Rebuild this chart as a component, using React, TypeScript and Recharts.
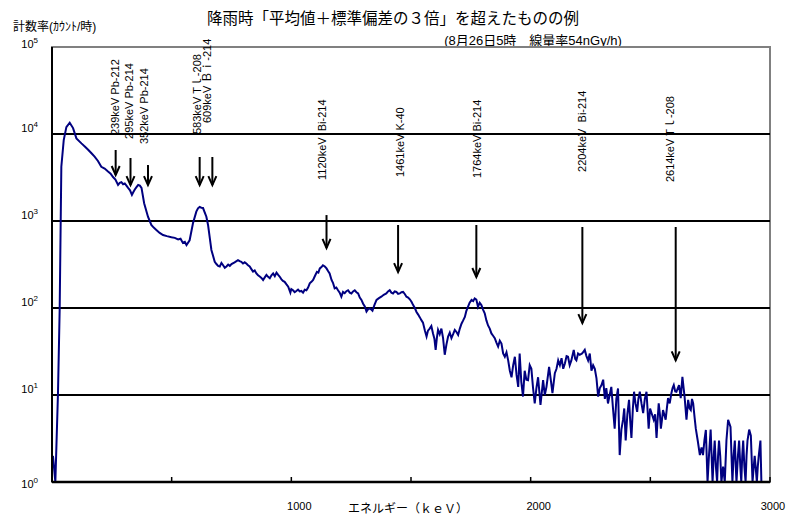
import React from "react";
import { LineChart, Line, XAxis, YAxis, ReferenceLine, ReferenceDot, ReferenceArea } from "recharts";

const energyKeV = [
  4, 14, 25, 32, 39, 49, 60, 74, 88, 102, 123, 137, 151, 165, 178, 192, 206, 220, 234, 245, 255, 265, 276, 283, 290, 297, 304, 311, 318, 326, 334, 340, 346, 353, 360, 367, 374, 385, 401, 415, 425, 436, 450, 464, 480, 499, 513, 527, 537, 547, 555, 562, 575, 589, 603, 610, 617, 624, 631, 645, 652, 666, 680, 687, 694, 701, 708, 715, 722, 729, 736, 743, 750, 763, 777, 784, 791, 798, 805, 812, 819, 826, 833, 840, 847, 854, 861, 868, 875, 882, 889, 896, 903, 910, 917, 924, 931, 938, 945, 951, 958, 965, 972, 979, 987, 996, 1000, 1007, 1014, 1021, 1028, 1035, 1042, 1049, 1056, 1063, 1070, 1077, 1084, 1091, 1099, 1107, 1113, 1119, 1126, 1132, 1140, 1147, 1154, 1160, 1168, 1174, 1181, 1188, 1195, 1202, 1209, 1216, 1223, 1230, 1237, 1244, 1251, 1258, 1265, 1272, 1279, 1286, 1293, 1300, 1307, 1314, 1321, 1328, 1334, 1339, 1347, 1356, 1366, 1376, 1386, 1397, 1404, 1411, 1418, 1425, 1432, 1439, 1446, 1453, 1460, 1467, 1474, 1481, 1488, 1495, 1502, 1509, 1516, 1523, 1530, 1537, 1544, 1550, 1558, 1565, 1571, 1578, 1585, 1592, 1598, 1603, 1608, 1613, 1620, 1627, 1634, 1641, 1648, 1655, 1662, 1669, 1676, 1683, 1690, 1697, 1704, 1711, 1718, 1725, 1731, 1738, 1745, 1753, 1760, 1766, 1773, 1780, 1787, 1794, 1801, 1808, 1815, 1822, 1829, 1836, 1843, 1850, 1857, 1864, 1871, 1878, 1885, 1892, 1899, 1906, 1913, 1920, 1927, 1934, 1941, 1948, 1954, 1961, 1968, 1975, 1982, 1989, 1996, 2003, 2010, 2017, 2024, 2031, 2041, 2052, 2059, 2066, 2077, 2084, 2091, 2101, 2108, 2115, 2122, 2129, 2136, 2143, 2150, 2156, 2163, 2170, 2180, 2186, 2191, 2198, 2205, 2215, 2226, 2233, 2240, 2247, 2254, 2261, 2268, 2275, 2282, 2289, 2296, 2303, 2310, 2316, 2323, 2330, 2337, 2344, 2351, 2358, 2365, 2372, 2379, 2386, 2391, 2397, 2404, 2411, 2416, 2421, 2427, 2432, 2438, 2445, 2450, 2456, 2463, 2470, 2477, 2484, 2493, 2499, 2505, 2514, 2520, 2526, 2530, 2535, 2540, 2544, 2548, 2553, 2558, 2564, 2569, 2574, 2581, 2588, 2593, 2598, 2604, 2609, 2615, 2620, 2627, 2634, 2643, 2651, 2658, 2664, 2669, 2674, 2679, 2685, 2690, 2698, 2707, 2714, 2720, 2726, 2732, 2739, 2745, 2752, 2760, 2765, 2769, 2774, 2779, 2783, 2787, 2792, 2797, 2804, 2811, 2818, 2825, 2835, 2843, 2848, 2853, 2857, 2860, 2866, 2871, 2876, 2880, 2884, 2888, 2893, 2898, 2902, 2906, 2913, 2920, 2927, 2932, 2936, 2940, 2945, 2949, 2953, 2960, 2964,
];

const countRate = [
  2, 1, 10.5, 95, 4200, 8500, 12000, 13500, 11700, 8900, 7800, 7200, 6600, 6000, 5500, 4900, 4200, 4000, 3700, 3500, 3200, 3000, 2600, 2750, 2800, 2650, 2700, 2550, 2400, 2250, 2000, 2150, 2300, 2450, 2600, 2550, 2400, 1600, 1120, 900, 840, 790, 730, 690, 670, 650, 640, 615, 625, 560, 575, 530, 600, 940, 1280, 1400, 1450, 1420, 1410, 1120, 900, 465, 340, 320, 305, 300, 330, 310, 290, 300, 315, 305, 320, 335, 355, 345, 340, 325, 335, 325, 310, 300, 280, 262, 270, 250, 238, 230, 222, 210, 225, 240, 228, 220, 238, 250, 232, 255, 240, 230, 215, 205, 200, 188, 176, 150, 165, 160, 152, 157, 163, 155, 157, 150, 162, 160, 172, 192, 200, 210, 235, 260, 255, 285, 295, 310, 300, 285, 265, 250, 210, 195, 168, 172, 160, 150, 135, 153, 148, 156, 160, 150, 147, 155, 160, 152, 147, 132, 124, 112, 104, 91, 97, 99, 96, 93, 108, 124, 130, 135, 142, 147, 155, 160, 150, 147, 155, 153, 145, 147, 152, 153, 145, 135, 132, 126, 118, 108, 100, 90, 84, 78, 72, 68, 55, 47, 55, 58, 62, 51, 44, 33, 45, 56, 50, 58, 45, 29, 38, 47, 52, 45, 50, 56, 53, 49, 58, 66, 72, 79, 92, 103, 115, 124, 120, 129, 125, 103, 115, 108, 96, 87, 72, 63, 58, 51, 48, 45, 40, 36, 42, 39, 30, 27.5, 31, 25, 19, 16, 22, 27.5, 17, 12.4, 30, 14, 9.6, 19, 15, 14.8, 22, 20, 12, 8, 12, 16, 7.7, 14.8, 10, 12.4, 21, 15, 10.5, 17.8, 20, 25, 22, 26.5, 20, 23, 28, 27.5, 22, 25, 33, 26, 25, 30, 29, 30, 33, 28, 25, 30, 19, 22, 20, 15.5, 9.6, 12, 13, 15, 9, 12, 8, 10, 12.4, 7, 4.1, 9, 11.9, 2.04, 4, 5.2, 7, 3.0, 6, 8.8, 5, 3.2, 7, 10.9, 8, 6.4, 9, 10.9, 8, 6.2, 9, 10.9, 4.1, 7, 6.2, 5.2, 6, 3.2, 5, 8, 6, 4.1, 5, 6.7, 6, 5.2, 7, 9.2, 8, 10.5, 12, 13, 11, 10.9, 12, 13, 9.2, 16.2, 9.6, 5.2, 8.8, 7, 6.7, 9, 8, 5.5, 4.1, 3, 2.04, 2.5, 2.04, 3, 3.96, 1, 2, 4, 1, 2, 3, 1.5, 1, 2, 3, 2, 1, 1.5, 1, 3, 5.2, 4.3, 1, 2, 3, 1.5, 1, 2, 3, 1.5, 1, 2, 3, 1.5, 1, 2, 3, 4, 3.4, 1, 1.5, 2, 1.5, 1, 1.5, 2, 3, 1,
];

const xTicks = [0, 500, 1000, 1500, 2000, 2500, 3000];
const xTickLabels = ["", "", "1000", "", "2000", "", "3000"];
const yTicks = [1, 10, 100, 1000, 10000, 100000];
const yTickExp = ["0", "1", "2", "3", "4", "5"];
const gridLevels = [10, 100, 1000, 10000];

const peakLabels = [
  "239keV Pb-212",
  "295keV Pb-214",
  "352keV Pb-214",
  "583keV Tｌ-208",
  "609keV Ｂｉ-214",
  "1120keV  Bi-214",
  "1461keV K-40",
  "1764keV Bi-214",
  "2204keV  Bi-214",
  "2614keV Tｌ-208",
];
const labelEnergy = [262, 320, 383, 605, 646, 1129, 1455, 1777, 2216, 2581];
const labelBase = [9740, 8770, 7670, 10000, 13370, 2960, 3200, 3120, 3660, 2800];
const arrowEnergy = [266, 328, 401, 617, 670, 1147, 1446, 1773, 2216, 2606];
const arrowTop = [6550, 5300, 4400, 5440, 5440, 1170, 900, 900, 853, 853];
const arrowTip = [3380, 2590, 2590, 2590, 2590, 490, 259, 227, 67, 25];

const title = "降雨時「平均値＋標準偏差の３倍」を超えたものの例";
const subtitle = "(8月26日5時　線量率54nGy/h)";
const yLabel = "計数率(ｶｳﾝﾄ/時)";
const xLabel = "エネルギー（ｋｅＶ）";

const rows = energyKeV.map((e, i) => ({ e, v: countRate[i] }));

const FONT = "'Liberation Sans', Arial, 'Noto Sans CJK JP', sans-serif";

const XTick = (props: any) => {
  const { x, y, payload } = props;
  const idx = xTicks.indexOf(payload.value);
  const label = idx >= 0 ? xTickLabels[idx] : "";
  const lx = Math.min(x + 8, 773);
  return (
    <g>
      <line x1={x} x2={x} y1={y} y2={y - 5} stroke="#000" strokeWidth={1.5} />
      {label && (
        <text x={lx} y={y + 24} textAnchor="middle" dominantBaseline="central" fontSize={11} fontFamily={FONT} fill="#000">
          {label}
        </text>
      )}
    </g>
  );
};

const YTick = (props: any) => {
  const { x, y, payload } = props;
  const idx = yTicks.indexOf(payload.value);
  const exp = yTickExp[idx];
  const off = idx === 0 ? 2 : idx === 5 ? -3 : -6;
  return (
    <text x={x - 14} y={y + off + 4} textAnchor="end" fontSize={11} fontFamily={FONT} fill="#000">
      <tspan>10</tspan>
      <tspan dy={-5} fontSize={8}>{exp}</tspan>
    </text>
  );
};

const ArrowShape = (props: any) => {
  const { x1, y1, x2, y2 } = props;
  return (
    <g>
      <line x1={x1} y1={y1} x2={x2} y2={y2} stroke="#000" strokeWidth={2} />
      <polyline points={`${x2 - 4},${y2 - 9} ${x2},${y2} ${x2 + 4},${y2 - 9}`} fill="none" stroke="#000" strokeWidth={2} />
    </g>
  );
};

const makeLabelShape = (text: string) => (props: any) => {
  const { cx, cy } = props;
  return (
    <text
      x={cx}
      y={cy}
      transform={`rotate(-90 ${cx} ${cy})`}
      textAnchor="start"
      dominantBaseline="central"
      fontSize={11}
      fontFamily={FONT}
      fill="#000"
      style={{ whiteSpace: "pre" }}
    >
      {text}
    </text>
  );
};

export default function App() {
  return (
    <div style={{ position: "absolute", left: 0, top: 0, width: 787, height: 523, background: "#fff" }}>
      <LineChart width={787} height={523} data={rows} margin={{ top: 47, right: 17, bottom: 0, left: 0 }}>
        <ReferenceArea x1={0} x2={3000} y1={1} y2={100000} fill="none" stroke="#808080" strokeWidth={2} ifOverflow="visible" />
        <XAxis
          type="number"
          dataKey="e"
          domain={[0, 3000]}
          ticks={xTicks}
          allowDataOverflow
          height={41}
          tickSize={0}
          tickMargin={0}
          tickLine={false}
          axisLine={{ stroke: "#000", strokeWidth: 2.5 }}
          tick={<XTick />}
          interval={0}
        />
        <YAxis
          scale="log"
          domain={[1, 100000]}
          ticks={yTicks}
          allowDataOverflow
          width={52}
          tickSize={0}
          tickMargin={0}
          tickLine={false}
          axisLine={{ stroke: "#000", strokeWidth: 2 }}
          tick={<YTick />}
          interval={0}
        />
        {gridLevels.map((g) => (
          <ReferenceLine key={g} y={g} stroke="#000" strokeWidth={1.8} ifOverflow="visible" />
        ))}
        <Line type="linear" dataKey="v" stroke="#000080" strokeWidth={2} dot={false} isAnimationActive={false} />
        {arrowEnergy.map((e, i) => (
          <ReferenceLine
            key={"a" + i}
            segment={[
              { x: e, y: arrowTop[i] },
              { x: e, y: arrowTip[i] },
            ]}
            ifOverflow="visible"
            shape={ArrowShape}
          />
        ))}
        {labelEnergy.map((e, i) => (
          <ReferenceDot key={"l" + i} x={e} y={labelBase[i]} ifOverflow="visible" shape={makeLabelShape(peakLabels[i])} />
        ))}
        <text x={393} y={18} textAnchor="middle" dominantBaseline="central" fontSize={15.5} fontFamily={FONT} fill="#000">
          {title}
        </text>
        <text x={533} y={40} textAnchor="middle" dominantBaseline="central" fontSize={13} fontFamily={FONT} fill="#000">
          {subtitle}
        </text>
        <text x={13} y={27} textAnchor="start" dominantBaseline="central" fontSize={12} fontFamily={FONT} fill="#000">
          {yLabel}
        </text>
        <text x={408} y={509} textAnchor="middle" dominantBaseline="central" fontSize={12} fontFamily={FONT} fill="#000">
          {xLabel}
        </text>
      </LineChart>
    </div>
  );
}
